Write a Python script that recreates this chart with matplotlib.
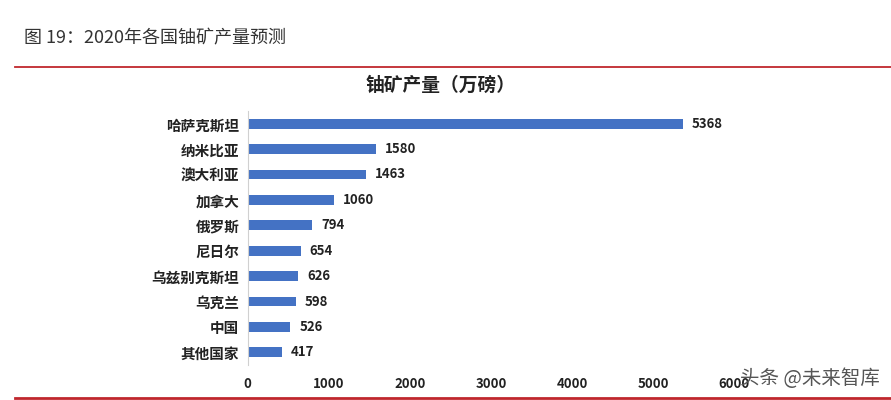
import matplotlib
matplotlib.use('Agg')
import matplotlib.pyplot as plt
from matplotlib.lines import Line2D

plt.rcParams['font.family'] = ['Noto Sans CJK SC', 'DejaVu Sans']

# ── data ──────────────────────────────────────────────────────────────────────
countries = ['哈萨克斯坦', '纳米比亚', '澳大利亚', '加拿大', '俄罗斯',
             '尼日尔', '乌兹别克斯坦', '乌克兰', '中国', '其他国家']
output = [5368, 1580, 1463, 1060, 794, 654, 626, 598, 526, 417]
xticks = [0, 1000, 2000, 3000, 4000, 5000, 6000]

bar_color = '#4472C4'
red = '#C0272D'

fig = plt.figure(figsize=(8.91, 4.0), dpi=100)
ax = fig.add_axes([0.278, 0.0875, 0.546, 0.635])

y = list(range(len(countries)))
ax.barh(y, output, height=0.38, color=bar_color)
ax.set_ylim(len(countries) - 0.5, -0.5)
ax.set_xlim(0, 6000)

ax.set_yticks(y)
ax.set_yticklabels(countries, fontsize=10.5, fontweight='bold', color='#222222')
ax.set_xticks(xticks)
ax.set_xticklabels([str(t) for t in xticks], fontsize=9.5, fontweight='bold',
                   color='#222222')
ax.tick_params(axis='both', length=0)
ax.tick_params(axis='x', pad=9)
ax.tick_params(axis='y', pad=6)

for s in ['top', 'right', 'bottom']:
    ax.spines[s].set_visible(False)
ax.spines['left'].set_color('#d0d0d0')

for yi, v in zip(y, output):
    ax.text(v + 110, yi, str(v), va='center', ha='left', fontsize=9.5,
            fontweight='bold', color='#222222')

# header & decorations
fig.text(0.027, 0.903, '图 19：2020年各国铀矿产量预测', fontsize=13,
         color='#333333', va='center')
fig.add_artist(Line2D([0.017, 1.0], [0.832, 0.832], color=red, lw=1.3))
fig.add_artist(Line2D([0.017, 1.0], [0.004, 0.004], color=red, lw=2))
fig.text(0.494, 0.787, '铀矿产量（万磅）', fontsize=13.5, fontweight='bold',
         color='#222222', ha='center', va='center')
fig.text(0.988, 0.055, '头条 @未来智库', fontsize=14, color='#555555',
         ha='right', va='center')

fig.savefig('out.png', dpi=100)
